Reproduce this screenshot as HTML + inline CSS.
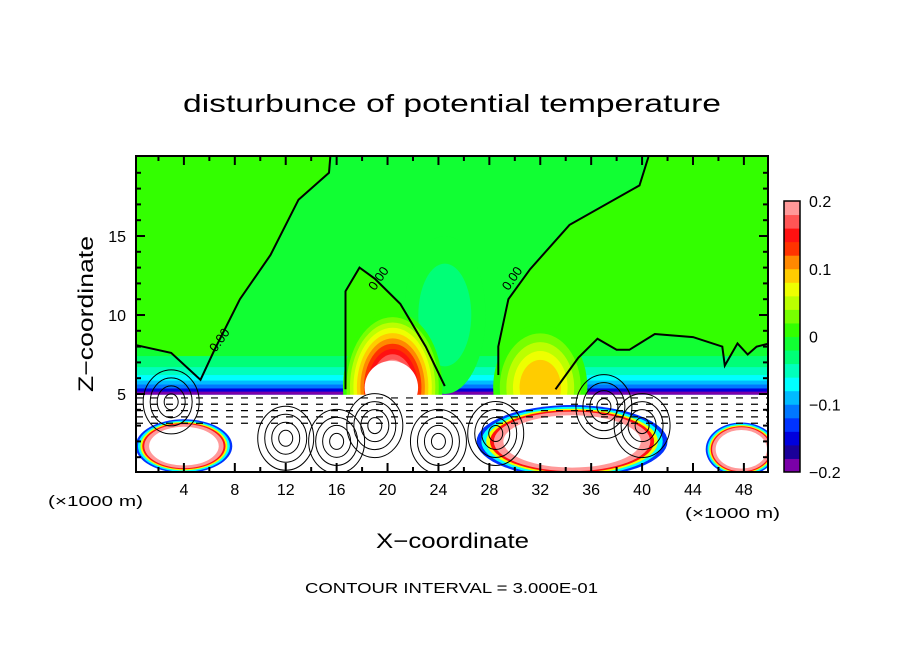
<!DOCTYPE html>
<html><head><meta charset="utf-8"><style>
html,body{margin:0;padding:0;background:#fff;}
svg{display:block;font-family:"Liberation Sans",sans-serif;}
</style></head><body>
<svg id="chart" width="904" height="654" viewBox="0 0 904 654" xmlns="http://www.w3.org/2000/svg">
<defs><clipPath id="plotclip"><rect x="136" y="156" width="632" height="316"/></clipPath></defs>
<text x="183" y="112" font-size="25" textLength="538" lengthAdjust="spacingAndGlyphs">disturbunce of potential temperature</text>
<g id="plot" clip-path="url(#plotclip)"></g>
<rect x="136" y="156" width="632" height="316" fill="none" stroke="#000" stroke-width="2"/>
<g id="axes"></g>
<g id="cbar"></g>
<text transform="translate(93,392) rotate(-90)" font-size="21" textLength="156" lengthAdjust="spacingAndGlyphs">Z−coordinate</text>
<text x="376" y="548" font-size="21" textLength="153" lengthAdjust="spacingAndGlyphs">X−coordinate</text>
<text x="48" y="506" font-size="15" textLength="95" lengthAdjust="spacingAndGlyphs">(×1000 m)</text>
<text x="685" y="518" font-size="15" textLength="95" lengthAdjust="spacingAndGlyphs">(×1000 m)</text>
<text x="305" y="593" font-size="15" textLength="293" lengthAdjust="spacingAndGlyphs">CONTOUR INTERVAL = 3.000E-01</text>
</svg>
<script>
// ---- data ----
const xTicks = [4,8,12,16,20,24,28,32,36,40,44,48];
const zTicks = [5,10,15];
const cbarLevels = [-0.2,-0.18,-0.16,-0.14,-0.12,-0.1,-0.08,-0.06,-0.04,-0.02,0,0.02,0.04,0.06,0.08,0.1,0.12,0.14,0.16,0.18,0.2];
const cbarColors = ["#7a00a8","#1a0099","#0000dd","#0033ff","#0077ff","#00bbff","#00ffff","#00ffbb","#00ff77","#11ff33","#33ff00","#77ff00","#bbff00","#eeff00","#ffcc00","#ff8800","#ff3300","#ff1111","#ff5555","#ff9999"];
const cbarTickVals = [0.2,0.1,0,-0.1,-0.2];
const cbarTickLabels = ["0.2","0.1","0","−0.1","−0.2"];
const posLeft = [[0,20],[15.5,20],[15.4,19],[13,17.3],[10.8,13.8],[8.4,11],[6.4,7.8],[5.3,5.9],[3,7.6],[0.2,8.1],[0,8.1]];
const posRight = [[50,20],[40.5,20],[39.8,18.2],[34.3,15.7],[31.2,12.9],[29.5,11],[28.7,8],[28.7,6.2],[30,5.3],[33.2,5.3],[35,7.3],[36.5,8.5],[38,7.8],[39,7.8],[41,8.8],[44,8.6],[46.3,8],[46.5,6.8],[47.5,8.2],[48.3,7.5],[49,8],[50,8.2]];
const posMid = [[16.7,5.3],[16.7,11.5],[17.8,13],[19,12.3],[21,10.7],[23,8],[24.5,5.5]];
// blobs: x, z, rx, rz, peak value
const blobX = [24.5, 20.4, 32.0];
const blobZ = [10.0, 5.4, 5.4];
const blobRX = [3.2, 3.9, 3.7];
const blobRZ = [5.0, 4.8, 4.0];
const blobPeak = [-0.03, 0.2, 0.09];
// bottom patches: x, z, rx, rz
const patchX = [4.0, 34.5, 47.8];
const patchZ = [1.7, 2.0, 1.5];
const patchRX = [3.8, 7.5, 2.8];
const patchRZ = [1.7, 2.3, 1.7];
const contourA = [[0.2,8.1],[3,7.6],[5.3,5.9],[6.4,7.8],[8.4,11],[10.8,13.8],[13,17.3],[15.4,19],[15.5,20]];
const contourB = [[16.7,5.3],[16.7,11.5],[17.8,13],[19,12.3],[21,10.7],[23,8],[24.5,5.5]];
const contourC = [[28.7,6.2],[28.7,8],[29.5,11],[31.2,12.9],[34.3,15.7],[39.8,18.2],[40.5,20]];
const contourD = [[33.2,5.3],[35,7.3],[36.5,8.5],[38,7.8],[39,7.8],[41,8.8],[44,8.6],[46.3,8],[46.5,6.8],[47.5,8.2],[48.3,7.5],[49,8],[50,8.2]];

// ---- scales ----
const X0=133, XS=12.727, Z0=473, ZS=15.8;
const px = x => X0 + x*XS;
const pz = z => Z0 - z*ZS;
const NS="http://www.w3.org/2000/svg";
function mk(tag, attrs, parent){const e=document.createElementNS(NS,tag);for(const k in attrs)e.setAttribute(k,attrs[k]);parent.appendChild(e);return e;}
function colorFor(v){let i=Math.floor((v+0.2)/0.02);i=Math.max(0,Math.min(19,i));return cbarColors[i];}
const plot=document.getElementById('plot');
const pts = arr => arr.map(p=>px(p[0]).toFixed(1)+','+pz(p[1]).toFixed(1)).join(' ');

let e=mk('rect',{x:136,y:156,width:632,height:316,fill:colorFor(-0.01)},plot);


[posLeft,posRight,posMid].forEach((poly,i)=>{
  const p=mk('polygon',{points:pts(poly),fill:colorFor(0.01)},plot);
  
  
});
const layerTop=[7.4,6.7,6.2,5.85,5.6,5.35,5.15];
const layerVals=[-0.03,-0.05,-0.07,-0.09,-0.11,-0.15,-0.19];
layerVals.forEach((v,k)=>{
  const el=mk('rect',{x:136,y:pz(layerTop[k]),width:632,height:pz(4.95)-pz(layerTop[k]),fill:colorFor(v)},plot);
  
  
});
blobX.forEach((bx,i)=>{
  const peak=blobPeak[i]; const n=Math.max(1,Math.round(Math.abs(peak)/0.02));
  for(let k=1;k<=n;k++){
    const f=1-(k-1)/n*0.7; const v=Math.sign(peak)*(k*0.02-0.001);
    const el=mk('ellipse',{cx:px(bx),cy:pz(blobZ[i]),rx:blobRX[i]*XS*f,ry:blobRZ[i]*ZS*f,fill:colorFor(v)},plot);
    
    
  }
});
{const el2=mk('ellipse',{cx:px(20.3),cy:pz(5.4),rx:2.1*XS,ry:1.7*ZS,fill:'#fff'},plot);}
e=mk('rect',{x:136,y:pz(4.95),width:632,height:pz(0)-pz(4.95)+2,fill:'#fff'},plot);


const ringCols=["#0033ff","#00ffff","#eeff00","#ff1111","#ff9999","#fff"];
const ringF=[1,0.95,0.9,0.86,0.82,0.72];
patchX.forEach((bx,i)=>{
  ringCols.forEach((c,k)=>{
    const f=ringF[k];
    const el=mk('ellipse',{cx:px(bx),cy:pz(patchZ[i]),rx:patchRX[i]*XS*f,ry:patchRZ[i]*ZS*f,fill:c},plot);
    
    
  });
});
for(let z=4.75; z>3.0; z-=0.4){
  const el=mk('line',{x1:136,x2:768,y1:pz(z),y2:pz(z),stroke:'#000','stroke-width':1.2,'stroke-dasharray':'7 8'},plot);
  
  
}
const swirlX=[3,12,19,24,37,16,28.5,40];const swirlZ=[4.5,2.2,3.0,2.0,4.2,2.0,2.5,3];
swirlX.forEach((sx,i)=>{for(let k=1;k<=4;k++){
  const el=mk('ellipse',{cx:px(sx),cy:pz(swirlZ[i]),rx:k*7,ry:k*8,fill:'none',stroke:'#000','stroke-width':1},plot);
  
  
}});
[contourA,contourB,contourC,contourD].forEach(c=>{
  const el=mk('polyline',{points:pts(c),fill:'none',stroke:'#000','stroke-width':2},plot);
  
  
});
[[6.5,7.6],[19,11.5],[29.5,11.5]].forEach(p=>{
  const t=mk('text',{x:0,y:0,'font-size':13,transform:`translate(${px(p[0])},${pz(p[1])}) rotate(-55)`},plot);
  t.textContent='0.00';
  
  
});
const axes=document.getElementById('axes');
for(let x=2;x<50;x+=2){const major=x%4===0;const L=major?9:5;
  [[472,-1],[156,1]].forEach(([y,d])=>{const el=mk('line',{x1:px(x),x2:px(x),y1:y,y2:y+d*L,stroke:'#000','stroke-width':2},axes);});}
for(let z=1;z<20;z++){const major=z%5===0;const L=major?9:5;
  [[136,1],[768,-1]].forEach(([x,d])=>{const el=mk('line',{x1:x,x2:x+d*L,y1:pz(z),y2:pz(z),stroke:'#000','stroke-width':2},axes);});}
xTicks.forEach(x=>{const t=mk('text',{x:px(x),y:495,'font-size':16,'text-anchor':'middle'},axes);t.textContent=x;});
zTicks.forEach(z=>{const t=mk('text',{x:126,y:pz(z)+6,'font-size':16,'text-anchor':'end'},axes);t.textContent=z;});
const cb=document.getElementById('cbar');const cTop=201,cBot=472,cx0=784,cw=16;
const cy=v=>cBot-(v+0.2)/0.4*(cBot-cTop);
cbarColors.forEach((c,i)=>{const el=mk('rect',{x:cx0,y:cy(cbarLevels[i+1]),width:cw,height:cy(cbarLevels[i])-cy(cbarLevels[i+1])+0.5,fill:c},cb);});
e=mk('rect',{x:cx0,y:cTop,width:cw,height:cBot-cTop,fill:'none',stroke:'#000','stroke-width':1.5},cb);


cbarTickVals.forEach((v,i)=>{const t=mk('text',{x:809,y:cy(v)+6,'font-size':16},cb);t.textContent=cbarTickLabels[i];});
</script>
</body></html>
